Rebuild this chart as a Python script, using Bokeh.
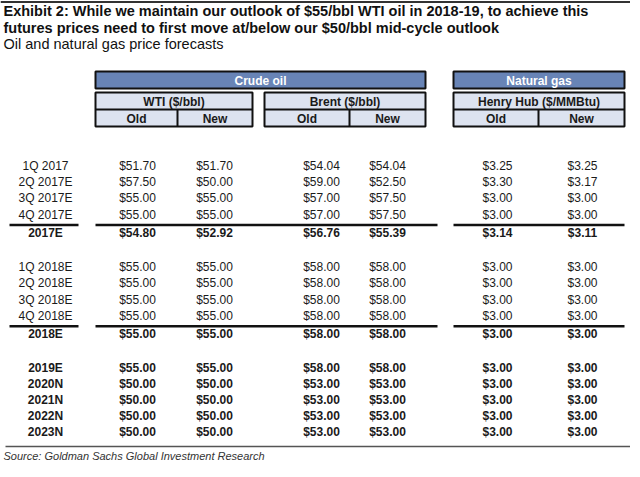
from bokeh.plotting import figure
from bokeh.models import Range1d, ColumnDataSource
from bokeh.embed import file_html
from bokeh.resources import INLINE
from bokeh.core.properties import value

# ---------------- data ----------------
title_lines = [
    "Exhibit 2: While we maintain our outlook of $55/bbl WTI oil in 2018-19, to achieve this",
    "futures prices need to first move at/below our $50/bbl mid-cycle outlook",
]
subtitle = "Oil and natural gas price forecasts"
source_note = "Source: Goldman Sachs Global Investment Research"

groups = ["Crude oil", "Natural gas"]
benchmarks = ["WTI ($/bbl)", "Brent ($/bbl)", "Henry Hub ($/MMBtu)"]
versions = ["Old", "New"]

row_labels = ["1Q 2017", "2Q 2017E", "3Q 2017E", "4Q 2017E", "2017E",
              "1Q 2018E", "2Q 2018E", "3Q 2018E", "4Q 2018E", "2018E",
              "2019E", "2020N", "2021N", "2022N", "2023N"]
row_bold = [False, False, False, False, True,
            False, False, False, False, True,
            True, True, True, True, True]

wti_old = [51.70, 57.50, 55.00, 55.00, 54.80,
           55.00, 55.00, 55.00, 55.00, 55.00,
           55.00, 50.00, 50.00, 50.00, 50.00]
wti_new = [51.70, 50.00, 55.00, 55.00, 52.92,
           55.00, 55.00, 55.00, 55.00, 55.00,
           55.00, 50.00, 50.00, 50.00, 50.00]
brent_old = [54.04, 59.00, 57.00, 57.00, 56.76,
             58.00, 58.00, 58.00, 58.00, 58.00,
             58.00, 53.00, 53.00, 53.00, 53.00]
brent_new = [54.04, 52.50, 57.50, 57.50, 55.39,
             58.00, 58.00, 58.00, 58.00, 58.00,
             58.00, 53.00, 53.00, 53.00, 53.00]
hh_old = [3.25, 3.30, 3.00, 3.00, 3.14,
          3.00, 3.00, 3.00, 3.00, 3.00,
          3.00, 3.00, 3.00, 3.00, 3.00]
hh_new = [3.25, 3.17, 3.00, 3.00, 3.11,
          3.00, 3.00, 3.00, 3.00, 3.00,
          3.00, 3.00, 3.00, 3.00, 3.00]

# ---------------- layout ----------------
FONT = value("Liberation Sans")
HEAD_BLUE = "#6884b6"
CELL_FILL = "#dde3f0"
TXT = "#1a1a1a"
W, H = 630, 461

p = figure(width=W, height=H, output_backend="svg", toolbar_location=None,
           x_range=Range1d(0, W), y_range=Range1d(H, 0),
           min_border=0, outline_line_color=None)
p.axis.visible = False
p.grid.visible = False
p.background_fill_color = "white"

# top rule and bottom rule
p.segment(x0=[0], y0=[1.5], x1=[W], y1=[1.5], line_color="#333333", line_width=2)
p.segment(x0=[5], y0=[446], x1=[W], y1=[446], line_color="#555555", line_width=1.5)

# titles
p.text(x=[3, 3], y=[10, 27], text=title_lines, text_font=FONT, text_font_size="14.5px",
       text_font_style="bold", text_color="#111111", text_baseline="middle")
p.text(x=[3], y=[43], text=[subtitle], text_font=FONT, text_font_size="14.5px",
       text_color="#111111", text_baseline="middle")
p.text(x=[3], y=[455], text=[source_note], text_font=FONT, text_font_size="11px",
       text_font_style="italic", text_color="#333333", text_baseline="middle")

# group header boxes
grp_l = [95, 453]
grp_r = [425, 624]
p.quad(left=grp_l, right=grp_r, top=[71, 71], bottom=[88, 88],
       fill_color=HEAD_BLUE, line_color="#111111", line_width=2)
p.text(x=[(a + b) / 2 for a, b in zip(grp_l, grp_r)], y=[80, 80], text=groups,
       text_font=FONT, text_font_size="12px", text_font_style="bold",
       text_color="white", text_align="center", text_baseline="middle")

# benchmark boxes
bm_l = [95, 264, 453]
bm_r = [252, 425, 624]
bm_mid = [177, 349, 538]
p.quad(left=bm_l, right=bm_r, top=[92] * 3, bottom=[126] * 3,
       fill_color=CELL_FILL, line_color="#111111", line_width=2)
p.segment(x0=bm_l, y0=[109] * 3, x1=bm_r, y1=[109] * 3, line_color="#111111", line_width=2)
p.segment(x0=bm_mid, y0=[109] * 3, x1=bm_mid, y1=[126] * 3, line_color="#111111", line_width=2)
p.text(x=[(a + b) / 2 for a, b in zip(bm_l, bm_r)], y=[101] * 3, text=benchmarks,
       text_font=FONT, text_font_size="12px", text_font_style="bold",
       text_color=TXT, text_align="center", text_baseline="middle")
ver_x, ver_t = [], []
for a, m, b in zip(bm_l, bm_mid, bm_r):
    ver_x += [(a + m) / 2, (m + b) / 2]
    ver_t += versions
p.text(x=ver_x, y=[118] * len(ver_x), text=ver_t, text_font=FONT, text_font_size="12px",
       text_font_style="bold", text_color=TXT, text_align="center", text_baseline="middle")

# row positions (structure: 3 groups, first two with 4 quarters + total)
row_y = []
y = 165.0
for i in range(len(row_labels)):
    row_y.append(y)
    if i in (3, 8):
        y += 18.5
    elif i in (4, 9):
        y += 33.5
    elif i >= 10:
        y += 15.9
    else:
        y += 16.4

label_x = 45
col_x = [137, 214, 321, 387, 497, 582]
series = [wti_old, wti_new, brent_old, brent_new, hh_old, hh_new]

for bold in (False, True):
    xs, ys, ts = [], [], []
    for i, lab in enumerate(row_labels):
        if row_bold[i] != bold:
            continue
        xs.append(label_x); ys.append(row_y[i]); ts.append(lab)
        for cx, s in zip(col_x, series):
            xs.append(cx); ys.append(row_y[i]); ts.append("${:.2f}".format(s[i]))
    src = ColumnDataSource(dict(x=xs, y=ys, t=ts))
    p.text(x="x", y="y", text="t", source=src, text_font=FONT, text_font_size="12px",
           text_font_style="bold" if bold else "normal", text_color=TXT,
           text_align="center", text_baseline="middle")

# underlines above total rows
for i in (4, 9):
    ly = (row_y[i - 1] + row_y[i]) / 2 + 1
    p.segment(x0=[9, 95, 453], y0=[ly] * 3, x1=[78, 437, 624], y1=[ly] * 3,
              line_color="#111111", line_width=2.5)

open("out.html", "w").write(file_html(p, INLINE))
